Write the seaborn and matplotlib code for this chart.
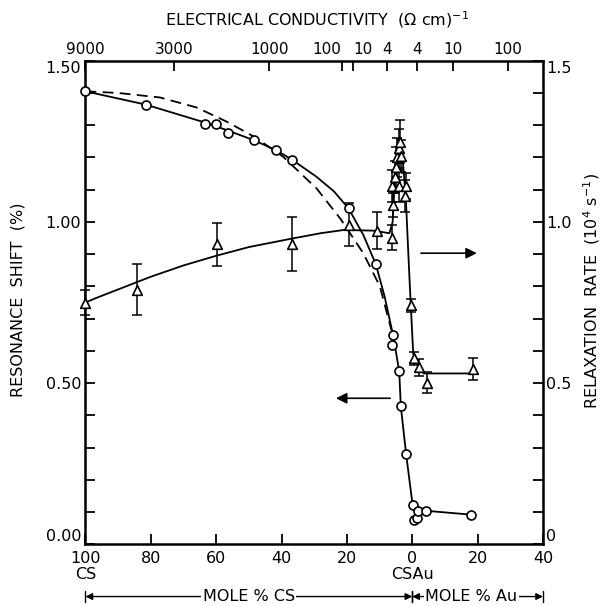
import numpy as np
import pandas as pd
import seaborn as sns
import matplotlib.pyplot as plt

# x scale: negative side = mole % Cs (100 -> 0), positive side = mole % Au
# resonance shift points (circles, left axis)
shift_x = [-100, -81.6, -63.5, -60.2, -56.4, -48.4, -41.6, -36.8, -19.5, -11.2,
           -5.9, -6.2, -4.0, -3.5, -1.9, 0.1, 0.4, 1.4, 1.8, 4.2, 18.0]
shift_y = [1.405, 1.364, 1.305, 1.305, 1.276, 1.253, 1.222, 1.193, 1.042, 0.870,
           0.650, 0.617, 0.537, 0.428, 0.281, 0.122, 0.075, 0.082, 0.103, 0.104, 0.092]

# solid curve drawn through the shift points
shift_fit_x = [-100, -81.6, -63, -56, -48.4, -41.6, -36.8, -29.3, -24, -19.5, -15,
               -11.2, -8.5, -5.9, -4.0, -3.5, -1.9, 0.1, 4.2, 18.0]
shift_fit_y = [1.405, 1.364, 1.307, 1.282, 1.253, 1.222, 1.193, 1.140, 1.095, 1.042,
               0.960, 0.870, 0.770, 0.650, 0.537, 0.428, 0.281, 0.122, 0.104, 0.092]

# dashed curve
dash_x = [-100, -90, -77.2, -66, -56.8, -48, -39.5, -29.3, -22, -15, -9.9, -6.4]
dash_y = [1.405, 1.400, 1.386, 1.355, 1.311, 1.262, 1.202, 1.104, 1.010, 0.903, 0.800, 0.665]

# relaxation rate points (triangles, right axis) with error bars
rate_x = [-100, -84.3, -59.7, -36.8, -19.5, -10.9, -6.3, -5.9, -6.2, -5.35, -5.05,
          -4.8, -4.1, -3.8, -3.5, -4.0, -2.3, -1.8, -0.25, 0.55, 2.0, 4.65, 18.6]
rate_y = [0.75, 0.79, 0.931, 0.932, 0.991, 0.973, 0.951, 1.052, 1.111, 1.140, 1.171,
          1.200, 1.228, 1.249, 1.204, 1.111, 1.080, 1.111, 0.742, 0.577, 0.549, 0.501, 0.543]
rate_err = [0.04, 0.08, 0.067, 0.084, 0.067, 0.058, 0.038, 0.037, 0.05, 0.05, 0.06,
            0.06, 0.06, 0.067, 0.05, 0.05, 0.05, 0.04, 0.02, 0.02, 0.027, 0.033, 0.034]

rate_fit_x = [-100, -97, -80, -70, -60, -50, -37, -28, -21, -12, -7, -6, -5.5, -4.5,
              -3.8, -3.0, -2.0, -1.2, -0.5, 0.3, 2.0, 3.5, 18.6]
rate_fit_y = [0.75, 0.763, 0.83, 0.865, 0.895, 0.922, 0.948, 0.965, 0.975, 0.973, 0.965,
              1.0, 1.1, 1.2, 1.25, 1.2, 1.08, 0.90, 0.75, 0.59, 0.55, 0.53, 0.53]

bottom_ticks = [-100, -80, -60, -40, -20, 0, 20, 40]
bottom_labels = ['100', '80', '60', '40', '20', '0', '20', '40']

# electrical conductivity scale (top axis)
top_ticks = [-100, -72.9, -43.7, -21.6, -18.0, -7.8, 1.4, 12.4, 29.3]
top_labels = ['9000', '3000', '1000', '100', '10', '4', '4', '10', '100']

left_ticks = [0.0, 0.5, 1.0, 1.5]
left_labels = ['0.00', '0.50', '1.00', '1.50']
right_labels = ['0', '0.5', '1.0', '1.5']

sns.set_style("ticks")
plt.rcParams['font.family'] = ['DejaVu Sans']
plt.rcParams['mathtext.default'] = 'regular'
for key in ['text.color', 'axes.labelcolor', 'xtick.color', 'ytick.color', 'axes.edgecolor']:
    plt.rcParams[key] = 'black'

fig = plt.figure(figsize=(6.05, 6.06), dpi=100)
ax = fig.add_axes([0.1413, 0.1018, 0.7562, 0.798])

# curves
sns.lineplot(x=shift_fit_x, y=shift_fit_y, sort=False, color='black', lw=1.3, ax=ax, zorder=2)
sns.lineplot(x=dash_x, y=dash_y, sort=False, color='black', lw=1.3, ax=ax, zorder=2,
             linestyle=(0, (6, 3.5)))
sns.lineplot(x=rate_fit_x, y=rate_fit_y, sort=False, color='black', lw=1.3, ax=ax, zorder=2)

# error bars + markers
ax.errorbar(rate_x, rate_y, yerr=rate_err, fmt='none', ecolor='black', elinewidth=1.1,
            capsize=3.6, capthick=1.1, zorder=3, clip_on=False)
sns.scatterplot(x=rate_x, y=rate_y, marker='^', s=48, facecolor='white', edgecolor='black',
                linewidth=1.2, ax=ax, zorder=4, clip_on=False)
sns.scatterplot(x=shift_x, y=shift_y, marker='o', s=42, facecolor='white', edgecolor='black',
                linewidth=1.2, ax=ax, zorder=4, clip_on=False)

# arrows telling which axis goes with which curve
ax.annotate('', xy=(-24.2, 0.453), xytext=(-5.9, 0.453),
            arrowprops=dict(arrowstyle='-|>', color='black', lw=1.2, mutation_scale=16))
ax.annotate('', xy=(20.6, 0.903), xytext=(1.8, 0.903),
            arrowprops=dict(arrowstyle='-|>', color='black', lw=1.2, mutation_scale=16))

ax.set_xlim(-100, 40)
ax.set_ylim(0, 1.5)
ax.set_xticks(bottom_ticks, labels=bottom_labels)
ax.set_yticks(left_ticks, labels=left_labels)
ax.set_yticks(np.arange(0, 1.51, 0.1), minor=True)
ax.tick_params(axis='both', which='both', direction='in', length=7.5, width=1.3,
               labelsize=11.5, top=False, right=False)
ax.tick_params(axis='x', pad=5)
ax.tick_params(axis='y', pad=3)
ylab = ax.get_yticklabels()
ylab[0].set_va('bottom')
ylab[-1].set_va('top')
for s in ax.spines.values():
    s.set_linewidth(1.8)
ax.set_xlabel('')
ax.set_ylabel('')

secx = ax.secondary_xaxis('top')
secx.set_xticks(top_ticks, labels=top_labels)
secx.tick_params(direction='in', length=7.5, width=1.3, labelsize=11, pad=3)
tlab = secx.get_xticklabels()
tlab[3].set_ha('right')
tlab[3].set_x(-21.6)
tlab[4].set_ha('left')

secy = ax.secondary_yaxis('right')
secy.set_yticks(left_ticks, labels=right_labels)
secy.set_yticks(np.arange(0, 1.51, 0.1), minor=True)
secy.tick_params(axis='y', which='both', direction='in', length=7.5, width=1.3,
                 labelsize=11.5, pad=2)
rlab = secy.get_yticklabels()
rlab[0].set_va('bottom')
rlab[-1].set_va('top')

# axis titles
fig.text(0.525, 0.968, 'ELECTRICAL CONDUCTIVITY  (Ω cm)$^{-1}$', ha='center', va='center',
         fontsize=11.5)
fig.text(0.03, 0.505, 'RESONANCE  SHIFT  (%)', rotation=90, ha='center', va='center',
         fontsize=11.5)
fig.text(0.978, 0.52, 'RELAXATION  RATE  (10$^4$ s$^{-1}$)', rotation=90, ha='center',
         va='center', fontsize=11.5)

# composition labels under the bottom axis
trans = ax.get_xaxis_transform()
ax.text(-100, -0.062, 'CS', transform=trans, ha='center', va='center', fontsize=11.5)
ax.text(0, -0.062, 'CSAu', transform=trans, ha='center', va='center', fontsize=11.5)
arrow_y = -0.108
for x0, x1 in [(-100, 0), (0, 40)]:
    ax.annotate('', xy=(x0, arrow_y), xytext=(x1, arrow_y), xycoords=trans, textcoords=trans,
                arrowprops=dict(arrowstyle='<|-|>', color='black', lw=1.0, mutation_scale=10,
                                shrinkA=0, shrinkB=0), annotation_clip=False)
    for xe in (x0, x1):
        ax.plot([xe, xe], [arrow_y - 0.012, arrow_y + 0.012], transform=trans, color='black',
                lw=1.0, clip_on=False)
ax.text(-50, arrow_y, 'MOLE % CS', transform=trans, ha='center', va='center', fontsize=11.5,
        bbox=dict(facecolor='white', edgecolor='none', pad=1))
ax.text(18, arrow_y, 'MOLE % Au', transform=trans, ha='center', va='center', fontsize=11.5,
        bbox=dict(facecolor='white', edgecolor='none', pad=1))

fig.savefig('out.png', dpi=100)
